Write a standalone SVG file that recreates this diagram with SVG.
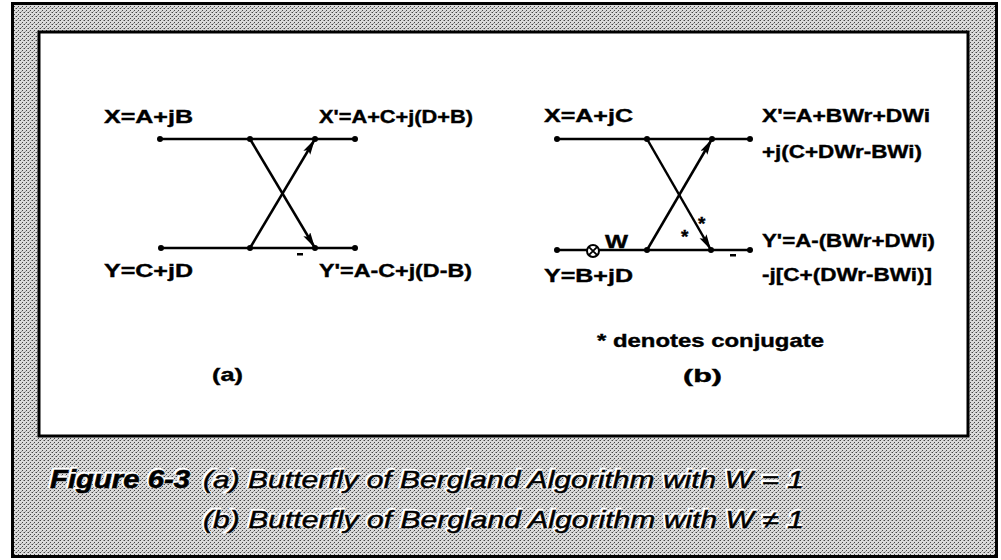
<svg xmlns="http://www.w3.org/2000/svg" width="1001" height="560" viewBox="0 0 1001 560">
  <defs>
    <pattern id="stipple" width="4" height="4" patternUnits="userSpaceOnUse">
      <rect width="4" height="4" fill="#dadada"/>
      <rect x="0" y="0" width="1" height="1" fill="#444"/>
      <rect x="2" y="2" width="1" height="1" fill="#444"/>
      <rect x="3" y="0" width="1" height="1" fill="#999"/>
      <rect x="1" y="3" width="1" height="1" fill="#999"/>
    </pattern>
    <marker id="arrow" markerUnits="userSpaceOnUse" markerWidth="18" markerHeight="10" refX="16" refY="4" orient="auto">
      <path d="M0,0 L16,4 L0,8 L3,4 Z" fill="#000"/>
    </marker>
  </defs>
  <style>
    .lbl { font-family: "Liberation Sans", Arial, sans-serif; font-weight: bold; font-size: 19px; fill: #000; stroke: #000; stroke-width: 0.4; }
    .wire { stroke: #000; stroke-width: 2.5; fill: none; }
    .dot { fill: #000; }
    .cap { font-family: "Liberation Sans", Arial, sans-serif; font-style: italic; fill: #000; }
    .halo { fill: #fff; stroke: #fff; stroke-width: 2.5; }
  </style>

  <g id="frame">
    <rect x="12.5" y="3.5" width="984" height="553" fill="url(#stipple)" stroke="#000" stroke-width="3"/>
    <rect x="39" y="32" width="929" height="404" fill="#fff" stroke="#000" stroke-width="3"/>
  </g>

  <g id="connectors">
    <!-- (a) -->
    <line class="wire" x1="160" y1="139" x2="355" y2="139"/>
    <line class="wire" x1="160" y1="248" x2="355" y2="248"/>
    <line class="wire" x1="250" y1="139" x2="315" y2="248" marker-end="url(#arrow)"/>
    <line class="wire" x1="250" y1="248" x2="315" y2="139" marker-end="url(#arrow)"/>
    <!-- (b) -->
    <line class="wire" x1="557" y1="139" x2="750" y2="139"/>
    <line class="wire" x1="557" y1="250" x2="587" y2="250"/>
    <line class="wire" x1="599" y1="250" x2="750" y2="250"/>
    <line class="wire" x1="647" y1="139" x2="711" y2="250" marker-end="url(#arrow)"/>
    <line class="wire" x1="647" y1="250" x2="712" y2="139" marker-end="url(#arrow)"/>
  </g>

  <g id="panel-a">
    <g id="a-dots">
      <circle class="dot" cx="160" cy="139" r="3"/>
      <circle class="dot" cx="250" cy="139" r="3"/>
      <circle class="dot" cx="315" cy="139" r="3"/>
      <circle class="dot" cx="355" cy="139" r="3"/>
      <circle class="dot" cx="161" cy="248" r="3"/>
      <circle class="dot" cx="250" cy="248" r="3"/>
      <circle class="dot" cx="315" cy="248" r="3"/>
      <circle class="dot" cx="355" cy="248" r="3"/>
    </g>
    <g id="a-x"><text class="lbl" x="104" y="123" textLength="89" lengthAdjust="spacingAndGlyphs">X=A+jB</text></g>
    <g id="a-xp"><text class="lbl" x="319" y="123" textLength="154" lengthAdjust="spacingAndGlyphs">X'=A+C+j(D+B)</text></g>
    <g id="a-y"><text class="lbl" x="104" y="277" textLength="89" lengthAdjust="spacingAndGlyphs">Y=C+jD</text></g>
    <g id="a-yp"><text class="lbl" x="319" y="277" textLength="153" lengthAdjust="spacingAndGlyphs">Y'=A-C+j(D-B)</text></g>
    <rect x="297" y="253" width="6" height="2.5" fill="#000"/>
    <g id="a-title"><text class="lbl" x="212" y="381" textLength="31" lengthAdjust="spacingAndGlyphs">(a)</text></g>
  </g>

  <g id="panel-b">
    <g id="b-dots">
      <circle class="dot" cx="557" cy="139" r="3"/>
      <circle class="dot" cx="647" cy="139" r="3"/>
      <circle class="dot" cx="712" cy="139" r="3"/>
      <circle class="dot" cx="750" cy="139" r="3"/>
      <circle class="dot" cx="557" cy="250" r="3"/>
      <circle class="dot" cx="647" cy="250" r="3"/>
      <circle class="dot" cx="711" cy="250" r="3"/>
      <circle class="dot" cx="750" cy="250" r="3"/>
    </g>
    <g id="b-mult">
      <circle cx="593" cy="251" r="6" fill="#fff" stroke="#000" stroke-width="2"/>
      <path d="M588.8,246.8 L597.2,255.2 M597.2,246.8 L588.8,255.2" stroke="#000" stroke-width="1.8"/>
      <text class="lbl" x="605" y="248" textLength="23" lengthAdjust="spacingAndGlyphs">W</text>
    </g>
    <g id="b-x"><text class="lbl" x="544" y="122" textLength="89" lengthAdjust="spacingAndGlyphs">X=A+jC</text></g>
    <g id="b-xp">
      <text class="lbl" x="762" y="122" textLength="168" lengthAdjust="spacingAndGlyphs">X'=A+BWr+DWi</text>
      <text class="lbl" x="762" y="158" textLength="160" lengthAdjust="spacingAndGlyphs">+j(C+DWr-BWi)</text>
    </g>
    <g id="b-y"><text class="lbl" x="544" y="282" textLength="89" lengthAdjust="spacingAndGlyphs">Y=B+jD</text></g>
    <g id="b-yp">
      <text class="lbl" x="762" y="247" textLength="173" lengthAdjust="spacingAndGlyphs">Y'=A-(BWr+DWi)</text>
      <text class="lbl" x="762" y="281" textLength="170" lengthAdjust="spacingAndGlyphs">-j[C+(DWr-BWi)]</text>
    </g>
    <text class="lbl" x="698" y="230" font-size="14">*</text>
    <text class="lbl" x="681" y="243" font-size="14">*</text>
    <rect x="730" y="254" width="6" height="2.5" fill="#000"/>
    <g id="b-note"><text class="lbl" x="597" y="347" textLength="227" lengthAdjust="spacingAndGlyphs">* denotes conjugate</text></g>
    <g id="b-title"><text class="lbl" x="683" y="382" textLength="39" lengthAdjust="spacingAndGlyphs">(b)</text></g>
  </g>

  <g id="caption">
    <text class="cap halo" x="49" y="487" font-size="25" font-weight="bold" textLength="140" lengthAdjust="spacingAndGlyphs">Figure 6-3</text>
    <text class="cap" x="50" y="488" font-size="25" font-weight="bold" stroke="#000" stroke-width="0.6" textLength="140" lengthAdjust="spacingAndGlyphs">Figure 6-3</text>
    <text class="cap halo" x="202" y="487" font-size="24" textLength="601" lengthAdjust="spacingAndGlyphs">(a) Butterfly of Bergland Algorithm with W = 1</text>
    <text class="cap" x="203" y="488" font-size="24" stroke="#000" stroke-width="0.5" textLength="601" lengthAdjust="spacingAndGlyphs">(a) Butterfly of Bergland Algorithm with W = 1</text>
    <text class="cap halo" x="202" y="527" font-size="24" textLength="601" lengthAdjust="spacingAndGlyphs">(b) Butterfly of Bergland Algorithm with W ≠ 1</text>
    <text class="cap" x="203" y="528" font-size="24" stroke="#000" stroke-width="0.5" textLength="601" lengthAdjust="spacingAndGlyphs">(b) Butterfly of Bergland Algorithm with W ≠ 1</text>
  </g>
</svg>
